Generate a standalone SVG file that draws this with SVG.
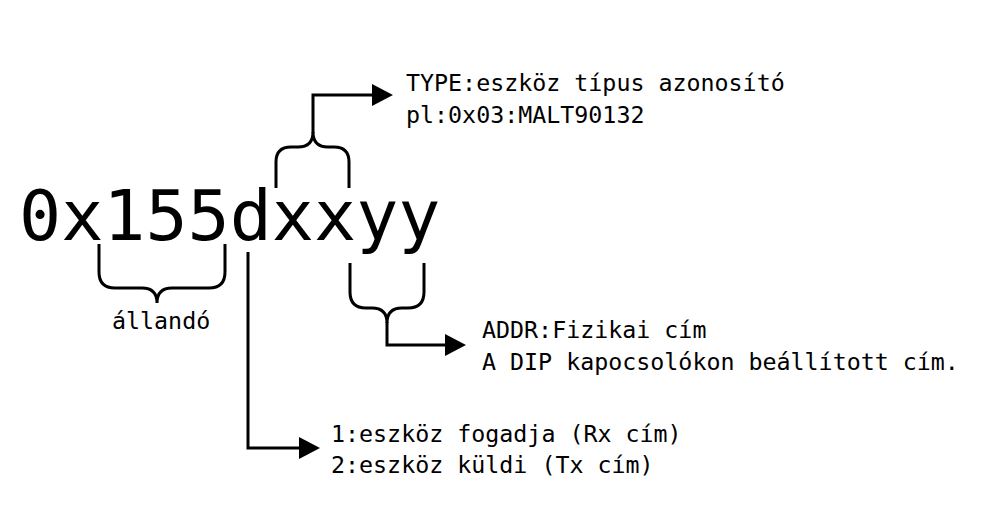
<svg xmlns="http://www.w3.org/2000/svg" width="988" height="525" viewBox="0 0 988 525">
<style>
text{font-family:"DejaVu Sans Mono","Liberation Mono",monospace;fill:#000}
.big{font-size:70px}
.lbl{font-size:23.3px}
.ln{fill:none;stroke:#000;stroke-width:3;stroke-linejoin:miter}
</style>
<defs>
<marker id="ah" markerUnits="userSpaceOnUse" markerWidth="22" markerHeight="24" refX="0" refY="11" orient="auto" viewBox="0 0 22 22">
<path d="M0,0 L21,11 L0,22 Z" fill="#000"/>
</marker>
</defs>
<rect width="988" height="525" fill="#fff"/>
<g id="value"><text class="big" x="19" y="240">0x155dxxyy</text></g>
<g id="type-label"><text class="lbl" x="406" y="91">TYPE:eszköz típus azonosító</text><text class="lbl" x="406" y="123">pl:0x03:MALT90132</text></g>
<g id="addr-label"><text class="lbl" x="482" y="338">ADDR:Fizikai cím</text><text class="lbl" x="482" y="370">A DIP kapocsolókon beállított cím.</text></g>
<g id="dir-label"><text class="lbl" x="331" y="442">1:eszköz fogadja (Rx cím)</text><text class="lbl" x="331" y="473">2:eszköz küldi (Tx cím)</text></g>
<g id="const-label"><text class="lbl" x="112" y="329">állandó</text></g>
<g id="connectors">
<path class="ln" d="M276,188 V162 Q276,147 291,147 H298 Q313,147 313,132 Q313,147 328,147 H334 Q349,147 349,162 V188"/>
<path class="ln" d="M313,133 V95 H372" marker-end="url(#ah)"/>
<path class="ln" d="M99,244 V272 Q99,288 115,288 H142 Q157,288 157,303 Q157,288 172,288 H209 Q225,288 225,272 V244"/>
<path class="ln" d="M350,263 V292 Q350,308 366,308 H372 Q387,308 387,323 Q387,308 402,308 H408 Q424,308 424,292 V263"/>
<path class="ln" d="M387,322 V345 H445" marker-end="url(#ah)"/>
<path class="ln" d="M248,252 V448 H299" marker-end="url(#ah)"/>
</g>
</svg>
